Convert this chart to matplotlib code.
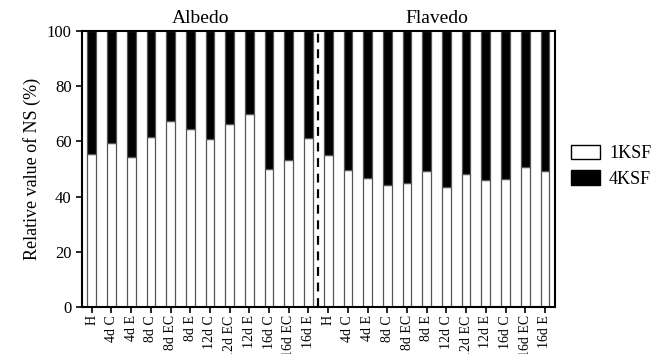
import numpy as np
import matplotlib
matplotlib.use("Agg")
import matplotlib.pyplot as plt

########## data
labels = ["H", "4d C", "4d E", "8d C", "8d EC", "8d E",
          "12d C", "12d EC", "12d E", "16d C", "16d EC", "16d E"]
albedo_1ksf  = [55.4, 59.3, 54.2, 61.6, 67.4, 64.4, 60.9, 66.3, 69.8, 50.0, 53.1, 61.2]
flavedo_1ksf = [55.2, 49.8, 46.7, 44.1, 44.9, 49.2, 43.4, 48.2, 46.0, 46.5, 50.6, 49.2]

one_ksf  = np.array(albedo_1ksf + flavedo_1ksf)
four_ksf = 100. - one_ksf
all_labels = labels + labels
x = np.arange(len(one_ksf))

plt.rcParams['font.family'] = ['Liberation Serif', 'DejaVu Serif']

fig = plt.figure(figsize=(6.66, 3.54), dpi=100)
fig.set_facecolor('w')
ax = fig.add_axes([0.123, 0.133, 0.710, 0.779])

ax.bar(x, one_ksf, width=0.44, color='white', edgecolor='#555555', linewidth=0.9, label='1KSF')
ax.bar(x, four_ksf, bottom=one_ksf, width=0.44, color='black', edgecolor='#555555', linewidth=0.9, label='4KSF')

# separator between the two tissues
ax.axvline(11.5, color='black', linestyle=(0, (4, 3)), linewidth=1.6)

ax.set_xlim(-0.5, len(x) - 0.5)
ax.set_ylim(0, 100)
ax.set_yticks([0, 20, 40, 60, 80, 100])
ax.set_xticks(x)
ax.set_xticklabels(all_labels, rotation=90, fontsize=10)
ax.tick_params(axis='y', labelsize=12, length=4, width=1.2, direction='out')
ax.tick_params(axis='x', length=4, width=1.2, direction='out', pad=2)
for s in ax.spines.values():
    s.set_linewidth(1.5)

ax.set_ylabel("Relative value of NS (%)", fontsize=13)

ax.text(5.5, 101.5, "Albedo", ha='center', va='bottom', fontsize=14)
ax.text(17.5, 101.5, "Flavedo", ha='center', va='bottom', fontsize=14)

leg = ax.legend(loc='center left', bbox_to_anchor=(1.0, 0.51), frameon=False,
                fontsize=13, handlelength=1.6, handleheight=0.85, labelspacing=0.45,
                handletextpad=0.5)
for h in leg.legend_handles:
    h.set_edgecolor('black')
    h.set_linewidth(1.0)

plt.savefig('out.png', dpi=100)
